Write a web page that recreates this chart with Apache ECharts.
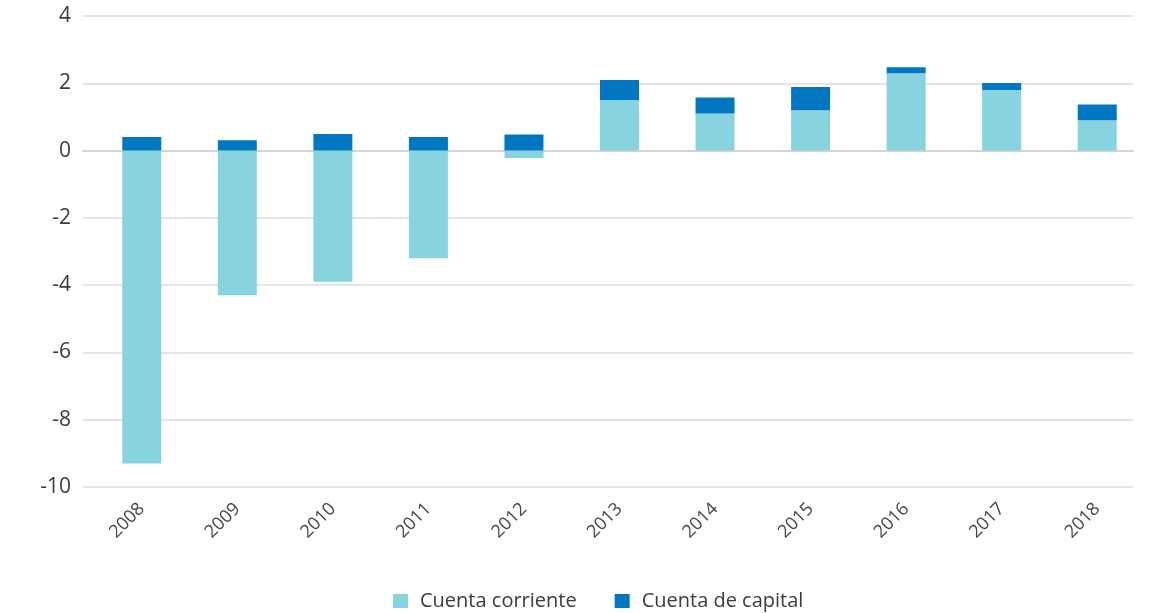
<!DOCTYPE html>
<html>
<head>
<meta charset="utf-8">
<script src="https://cdn.jsdelivr.net/npm/echarts@6/dist/echarts.min.js"></script>
<style>html,body{margin:0;padding:0;background:#fff;}#c{width:1151px;height:613px;}</style>
</head>
<body>
<div id="c"></div>
<script>
var categories = ['2008','2009','2010','2011','2012','2013','2014','2015','2016','2017','2018'];
var cuentaCorriente = [-9.3, -4.3, -3.9, -3.2, -0.22, 1.5, 1.1, 1.2, 2.3, 1.8, 0.9];
var cuentaCapital = [0.4, 0.31, 0.49, 0.4, 0.48, 0.6, 0.48, 0.69, 0.18, 0.21, 0.47];
var yTicks = {min: -10, max: 4, interval: 2};

var chart = echarts.init(document.getElementById('c'), null, {renderer: 'canvas'});
var font = '"Open Sans", "Noto Sans", sans-serif';
chart.setOption({
  animation: false,
  textStyle: {fontFamily: font},
  grid: [
    {left: 83, width: 1050, top: 16, bottom: 126},
    {left: 94, width: 1051, top: 16, bottom: 126}
  ],
  legend: {
    left: 388, top: 586,
    itemWidth: 15, itemHeight: 14, itemGap: 38,
    icon: 'rect',
    textStyle: {fontSize: 20, color: '#3c3c3c', fontFamily: font, padding: [0, 0, 0, 7]},
    data: ['Cuenta corriente', 'Cuenta de capital']
  },
  xAxis: [
    {gridIndex: 0, type: 'category', data: categories,
     axisLine: {show: true, onZero: true, lineStyle: {color: '#d4d4d4', width: 2}},
     axisTick: {show: false}, axisLabel: {show: false}, splitLine: {show: false}},
    {gridIndex: 1, type: 'category', data: categories,
     axisLine: {show: false, onZero: false}, axisTick: {show: false},
     axisLabel: {rotate: 45, fontSize: 18, color: '#444', margin: 19, fontFamily: font, interval: 0}}
  ],
  yAxis: [
    {gridIndex: 0, type: 'value', min: yTicks.min, max: yTicks.max, interval: yTicks.interval,
     axisLine: {show: false}, axisTick: {show: false},
     axisLabel: {fontSize: 21, color: '#3c3c3c', margin: 12, fontFamily: font},
     splitLine: {lineStyle: {color: '#dcdcdc', width: 1.5}}},
    {gridIndex: 1, type: 'value', min: yTicks.min, max: yTicks.max, interval: yTicks.interval,
     show: false, splitLine: {show: false}}
  ],
  series: [
    {name: 'Cuenta corriente', type: 'bar', xAxisIndex: 1, yAxisIndex: 1, stack: 'total', stackStrategy: 'samesign',
     barWidth: 39, data: cuentaCorriente, itemStyle: {color: '#87d3e0'}},
    {name: 'Cuenta de capital', type: 'bar', xAxisIndex: 1, yAxisIndex: 1, stack: 'total', stackStrategy: 'samesign',
     barWidth: 39, data: cuentaCapital, itemStyle: {color: '#0077c0'}}
  ]
});
</script>
</body>
</html>
